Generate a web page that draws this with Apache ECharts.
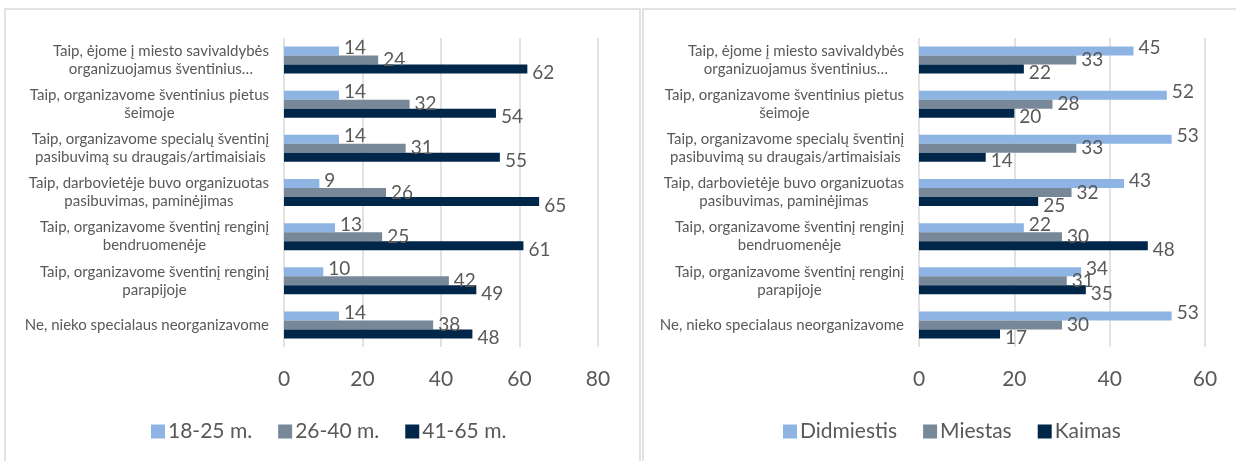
<!DOCTYPE html>
<html>
<head>
<meta charset="utf-8">
<script src="https://cdn.jsdelivr.net/npm/echarts@6/dist/echarts.min.js"></script>
<style>
html,body{margin:0;padding:0;background:#fff;}
#c{width:1236px;height:461px;}
</style>
</head>
<body>
<div id="c"></div>
<script>
const categories = [
  "Taip, ėjome į miesto savivaldybės\norganizuojamus šventinius…",
  "Taip, organizavome šventinius pietus\nšeimoje",
  "Taip, organizavome specialų šventinį\npasibuvimą su draugais/artimaisiais",
  "Taip, darbovietėje buvo organizuotas\npasibuvimas, paminėjimas",
  "Taip, organizavome šventinį renginį\nbendruomenėje",
  "Taip, organizavome šventinį renginį\nparapijoje",
  "Ne, nieko specialaus neorganizavome"
];
const ageNames = ["18-25 m.", "26-40 m.", "41-65 m."];
const age1825 = [14, 14, 14, 9, 13, 10, 14];
const age2640 = [24, 32, 31, 26, 25, 42, 38];
const age4165 = [62, 54, 55, 65, 61, 49, 48];
const placeNames = ["Didmiestis", "Miestas", "Kaimas"];
const didmiestis = [45, 52, 53, 43, 22, 34, 53];
const miestas = [33, 28, 33, 32, 30, 31, 30];
const kaimas = [22, 20, 14, 25, 48, 35, 17];
const leftTicks = {min: 0, max: 80, interval: 20};
const rightTicks = {min: 0, max: 60, interval: 20};

const colors = ["#8DB4E2", "#778899", "#00264A"];
const FONT = "Lato";
const TXT = "#595959";

function xAx(gi, t) {
  return {
    type: 'value', gridIndex: gi, min: t.min, max: t.max, interval: t.interval,
    axisLine: {show: false}, axisTick: {show: false},
    splitLine: {show: true, lineStyle: {color: '#D9D9D9', width: 1.5}},
    axisLabel: {fontFamily: FONT, fontSize: 21, color: TXT, margin: 22}
  };
}
function yAx(gi) {
  return {
    type: 'category', gridIndex: gi, inverse: true, data: categories,
    axisLine: {show: false}, axisTick: {show: false},
    axisLabel: {
      margin: 15, fontFamily: FONT, fontSize: 15, color: TXT, lineHeight: 18,
      formatter: v => v.split('\n').map(l => '{c|' + l + '}').join('\n'),
      rich: {c: {align: 'center', fontFamily: FONT, fontSize: 15, color: TXT, lineHeight: 18}}
    }
  };
}
const offs = [[0, -3], [0, 0], [0, 4]];
function bar(name, data, idx, gi) {
  return {
    type: 'bar', name: name, data: data, xAxisIndex: gi, yAxisIndex: gi,
    barWidth: 9, barGap: '0%',
    itemStyle: {color: colors[idx]},
    label: {show: true, position: 'right', distance: 5, offset: offs[idx],
      fontFamily: FONT, fontSize: 19, color: TXT},
    emphasis: {disabled: true}, animation: false
  };
}
function legend(names, leftX) {
  return {
    data: names, top: 416, left: leftX,
    itemWidth: 14, itemHeight: 14, icon: 'rect', itemGap: 26,
    textStyle: {fontFamily: FONT, fontSize: 21, color: TXT, padding: [0, 0, 0, -2]}
  };
}
const chart = echarts.init(document.getElementById('c'), null, {renderer: 'canvas'});
chart.setOption({
  animation: false,
  backgroundColor: '#fff',
  grid: [
    {left: 284, top: 38, width: 314, height: 309},
    {left: 919, top: 38, width: 286, height: 309}
  ],
  xAxis: [xAx(0, leftTicks), xAx(1, rightTicks)],
  yAxis: [yAx(0), yAx(1)],
  legend: [legend(ageNames, 146), legend(placeNames, 778)],
  graphic: [
    {type: 'rect', shape: {x: 5, y: 9, width: 635, height: 470}, style: {fill: null, stroke: '#D9D9D9', lineWidth: 1.5}, silent: true, z: -1},
    {type: 'rect', shape: {x: 643, y: 9, width: 620, height: 470}, style: {fill: null, stroke: '#D9D9D9', lineWidth: 1.5}, silent: true, z: -1}
  ],
  series: [
    bar(ageNames[0], age1825, 0, 0),
    bar(ageNames[1], age2640, 1, 0),
    bar(ageNames[2], age4165, 2, 0),
    bar(placeNames[0], didmiestis, 0, 1),
    bar(placeNames[1], miestas, 1, 1),
    bar(placeNames[2], kaimas, 2, 1)
  ]
});
</script>
</body>
</html>
